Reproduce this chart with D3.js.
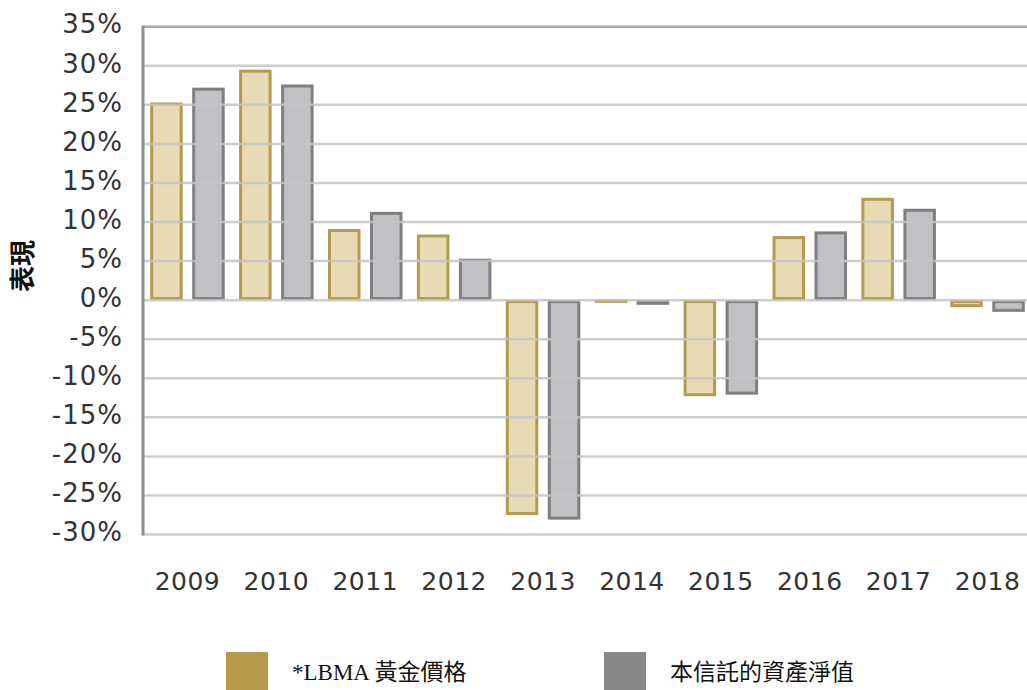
<!DOCTYPE html>
<html>
<head>
<meta charset="utf-8">
<script src="https://cdn.jsdelivr.net/npm/d3@7"></script>
<style>
  body { margin: 0; background: #fff; }
  svg { display: block; }
</style>
</head>
<body>
<svg id="chart"></svg>
<script>
const years = ['2009', '2010', '2011', '2012', '2013', '2014', '2015', '2016', '2017', '2018'];
const seriesNames = ['gold', 'nav'];
const goldValues = [25.3, 29.5, 9.1, 8.4, -27.5, 0.1, -12.3, 8.2, 13.1, -0.9];
const navValues = [27.2, 27.6, 11.3, 5.3, -28.1, -0.6, -12.1, 8.8, 11.7, -1.5];
const yTicks = [35, 30, 25, 20, 15, 10, 5, 0, -5, -10, -15, -20, -25, -30];
const legendLabels = ['*LBMA 黃金價格', '本信託的資產淨值'];

const width = 1027, height = 690;
const svg = d3.select('#chart').attr('width', width).attr('height', height);

// plot area (right side is cropped in the original)
const plotLeft = 143, plotRight = 1032, plotTop = 26.7, plotBottom = 534.5;

const x = d3.scaleBand().domain(years).range([plotLeft, plotRight]).padding(0);
const xs = d3.scaleBand().domain(seriesNames).range([0, x.bandwidth()])
    .paddingInner(0.226).paddingOuter(0.171);
const y = d3.scaleLinear().domain([-30, 35]).range([plotBottom, plotTop]);

const styles = {
    gold: { fill: '#c9a84c', opacity: 0.42, stroke: '#b39a4e' },
    nav: { fill: '#8a8e96', opacity: 0.55, stroke: '#7f7f7f' }
};

const rows = years.map((yr, i) => ({ year: yr, gold: goldValues[i], nav: navValues[i] }));

// bars first, so that gridlines show through the translucent fill
const barGroup = svg.append('g').attr('class', 'bars');
rows.forEach(r => {
    seriesNames.forEach(s => {
        const v = r[s];
        const y0 = y(Math.max(0, v)), y1 = y(Math.min(0, v));
        barGroup.append('rect')
            .attr('x', x(r.year) + xs(s) + 1.5)
            .attr('y', y0 + 1.5)
            .attr('width', xs.bandwidth() - 3)
            .attr('height', Math.max(0.5, y1 - y0 - 3))
            .attr('fill', styles[s].fill)
            .attr('fill-opacity', styles[s].opacity)
            .attr('stroke', styles[s].stroke)
            .attr('stroke-width', 3);
    });
});

// gridlines
svg.append('g').attr('class', 'grid')
    .selectAll('line')
    .data(yTicks)
    .enter()
    .append('line')
    .attr('x1', plotLeft)
    .attr('x2', width)
    .attr('y1', d => y(d))
    .attr('y2', d => y(d))
    .attr('stroke', d => d === 35 ? '#9c9c9c' : '#c4c4c4')
    .attr('stroke-opacity', 0.85)
    .attr('stroke-width', 2.5);

// left axis line
svg.append('line')
    .attr('x1', plotLeft).attr('x2', plotLeft)
    .attr('y1', y(35) - 1).attr('y2', y(-30) + 1)
    .attr('stroke', '#8e8e8e')
    .attr('stroke-width', 3);

// y tick labels
const yAxis = svg.append('g')
    .attr('transform', `translate(123,0)`)
    .call(d3.axisLeft(y).tickValues(yTicks).tickFormat(d => d + '%').tickSize(0).tickPadding(0));
yAxis.select('.domain').remove();
yAxis.selectAll('text')
    .attr('fill', '#333')
    .attr('dy', '0.24em')
    .style('font-family', '"DejaVu Sans", Verdana, sans-serif')
    .style('font-size', '26px')
    .style('letter-spacing', '1px');

// x labels
const xAxis = svg.append('g')
    .attr('transform', `translate(0,572)`)
    .call(d3.axisBottom(x).tickSize(0).tickPadding(0));
xAxis.select('.domain').remove();
xAxis.selectAll('text')
    .attr('fill', '#333')
    .style('font-family', '"DejaVu Sans", Verdana, sans-serif')
    .style('font-size', '25px')
    .style('letter-spacing', '0.5px');

// axis title
svg.append('text')
    .attr('transform', 'translate(32,266) rotate(-90)')
    .attr('text-anchor', 'middle')
    .attr('fill', '#111')
    .style('font-family', '"Noto Sans CJK TC", "Noto Sans CJK SC", sans-serif')
    .style('font-size', '26px')
    .style('font-weight', 'bold')
    .text('表現');

// legend
const legendColors = ['#b89b4a', '#878787'];
const legendX = [226, 604];
const legend = svg.append('g').attr('class', 'legend');
legendLabels.forEach((label, i) => {
    legend.append('rect')
        .attr('x', legendX[i])
        .attr('y', 652)
        .attr('width', 42)
        .attr('height', 40)
        .attr('fill', legendColors[i]);
    legend.append('text')
        .attr('x', legendX[i] + 66)
        .attr('y', 680)
        .attr('fill', '#111')
        .style('font-family', '"Liberation Serif", "Times New Roman", "Noto Sans CJK TC", serif')
        .style('font-size', '23px')
        .text(label);
});
</script>
</body>
</html>
